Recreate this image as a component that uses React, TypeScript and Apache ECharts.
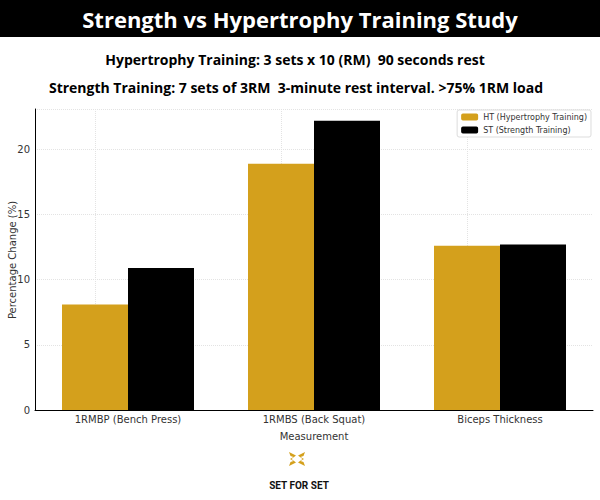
import React, { useEffect, useRef } from "react";
import * as echarts from "echarts";

const categories = ["1RMBP (Bench Press)", "1RMBS (Back Squat)", "Biceps Thickness"];
const htValues = [8.1, 18.9, 12.6];
const stValues = [10.9, 22.2, 12.7];
const yTicks = [0, 5, 10, 15, 20];
const seriesNames = ["HT (Hypertrophy Training)", "ST (Strength Training)"];

const GOLD = "#D4A01C";

echarts.graphic.registerShape(
  "sfsLogo",
  echarts.graphic.extendPath(
    "M0 0 L7 3.5 L2.5 7 L7 10.5 L0 14 L1.5 10 L4.5 9 L1 7 L4.5 5 L1.5 4 Z M16 0 L9 3.5 L13.5 7 L9 10.5 L16 14 L14.5 10 L11.5 9 L15 7 L11.5 5 L14.5 4 Z",
    {}
  )
);

export default function App() {
  const ref = useRef<HTMLDivElement>(null);
  useEffect(() => {
    if (!ref.current) return;
    const chart = echarts.init(ref.current, null, { renderer: "svg" });
    const axisFont = "DejaVu Sans";
    chart.setOption({
      animation: false,
      backgroundColor: "#ffffff",
      graphic: [
        { type: "rect", shape: { x: 0, y: 0, width: 600, height: 37 }, style: { fill: "#000" } },
        {
          type: "text",
          x: 300,
          y: 19,
          style: {
            text: "Strength vs Hypertrophy Training Study",
            fill: "#fff",
            font: "bold 22px 'Open Sans'",
            textAlign: "center",
            textVerticalAlign: "middle",
          },
        },
        {
          type: "text",
          x: 295,
          y: 59,
          style: {
            text: "Hypertrophy Training: 3 sets x 10 (RM)  90 seconds rest",
            fill: "#000",
            font: "bold 14px 'Open Sans'",
            textAlign: "center",
            textVerticalAlign: "middle",
          },
        },
        {
          type: "text",
          x: 296,
          y: 87,
          style: {
            text: "Strength Training: 7 sets of 3RM  3-minute rest interval. >75% 1RM load",
            fill: "#000",
            font: "bold 14px 'Open Sans'",
            textAlign: "center",
            textVerticalAlign: "middle",
          },
        },
        {
          type: "sfsLogo",
          x: 289,
          y: 452,
          scaleX: 1,
          scaleY: 1,
          style: { fill: GOLD },
        },
        {
          type: "text",
          x: 299,
          y: 485,
          style: {
            text: "SET FOR SET",
            fill: "#111",
            font: "bold 10px 'Liberation Sans Narrow', 'Roboto'",
            textAlign: "center",
            textVerticalAlign: "middle",
          },
        },
        {
          type: "text",
          x: 12,
          y: 260,
          rotation: Math.PI / 2,
          style: {
            text: "Percentage Change (%)",
            fill: "#333",
            font: "10px 'DejaVu Sans'",
            textAlign: "center",
            textVerticalAlign: "middle",
          },
        },
      ],
      legend: {
        orient: "vertical",
        right: 9,
        top: 110,
        padding: [3, 4, 3, 4],
        itemWidth: 17,
        itemHeight: 7,
        itemGap: 5,
        align: "left",
        borderColor: "#dddddd",
        borderWidth: 1,
        borderRadius: 2,
        backgroundColor: "#fff",
        textStyle: { fontSize: 8, color: "#333", fontFamily: axisFont },
        data: seriesNames,
      },
      grid: { left: 35, right: 7, top: 109, bottom: 90, containLabel: false, outerBoundsMode: "none" },
      xAxis: {
        type: "category",
        data: categories,
        name: "Measurement",
        nameLocation: "middle",
        nameGap: 21,
        nameTextStyle: { fontSize: 10, color: "#333", fontFamily: axisFont },
        axisLine: { show: true, lineStyle: { color: "#000", width: 1 } },
        axisTick: { show: false },
        axisLabel: { fontSize: 10, color: "#333", fontFamily: axisFont, margin: 4, interval: 0 },
        splitLine: { show: false },
      },
      yAxis: {
        type: "value",
        min: 0,
        max: 23.1,
        interval: 5,
        axisLine: { show: true, lineStyle: { color: "#000", width: 1 } },
        axisTick: { show: false },
        axisLabel: {
          fontSize: 10,
          color: "#333",
          fontFamily: axisFont,
          margin: 5,
          formatter: (v: number) => (yTicks.includes(v) ? String(v) : ""),
          showMaxLabel: false,
        },
        splitLine: { show: true, lineStyle: { color: "#e3e3e3", type: "dotted", width: 1 } },
      },
      series: [
        {
          name: seriesNames[0],
          type: "bar",
          data: htValues,
          barWidth: 66,
          barGap: "0%",
          itemStyle: { color: GOLD },
          markLine: {
            silent: true,
            symbol: "none",
            label: { show: false },
            lineStyle: { color: "#e3e3e3", type: "dotted", width: 1 },
            data: categories.map((c) => ({ xAxis: c })),
            z: 0,
          },
        },
        {
          name: seriesNames[1],
          type: "bar",
          data: stValues,
          barWidth: 66,
          barGap: "0%",
          itemStyle: { color: "#000000" },
        },
      ],
    });
    return () => chart.dispose();
  }, []);
  return <div ref={ref} style={{ width: 600, height: 500, position: "absolute", left: 0, top: 0 }} />;
}
